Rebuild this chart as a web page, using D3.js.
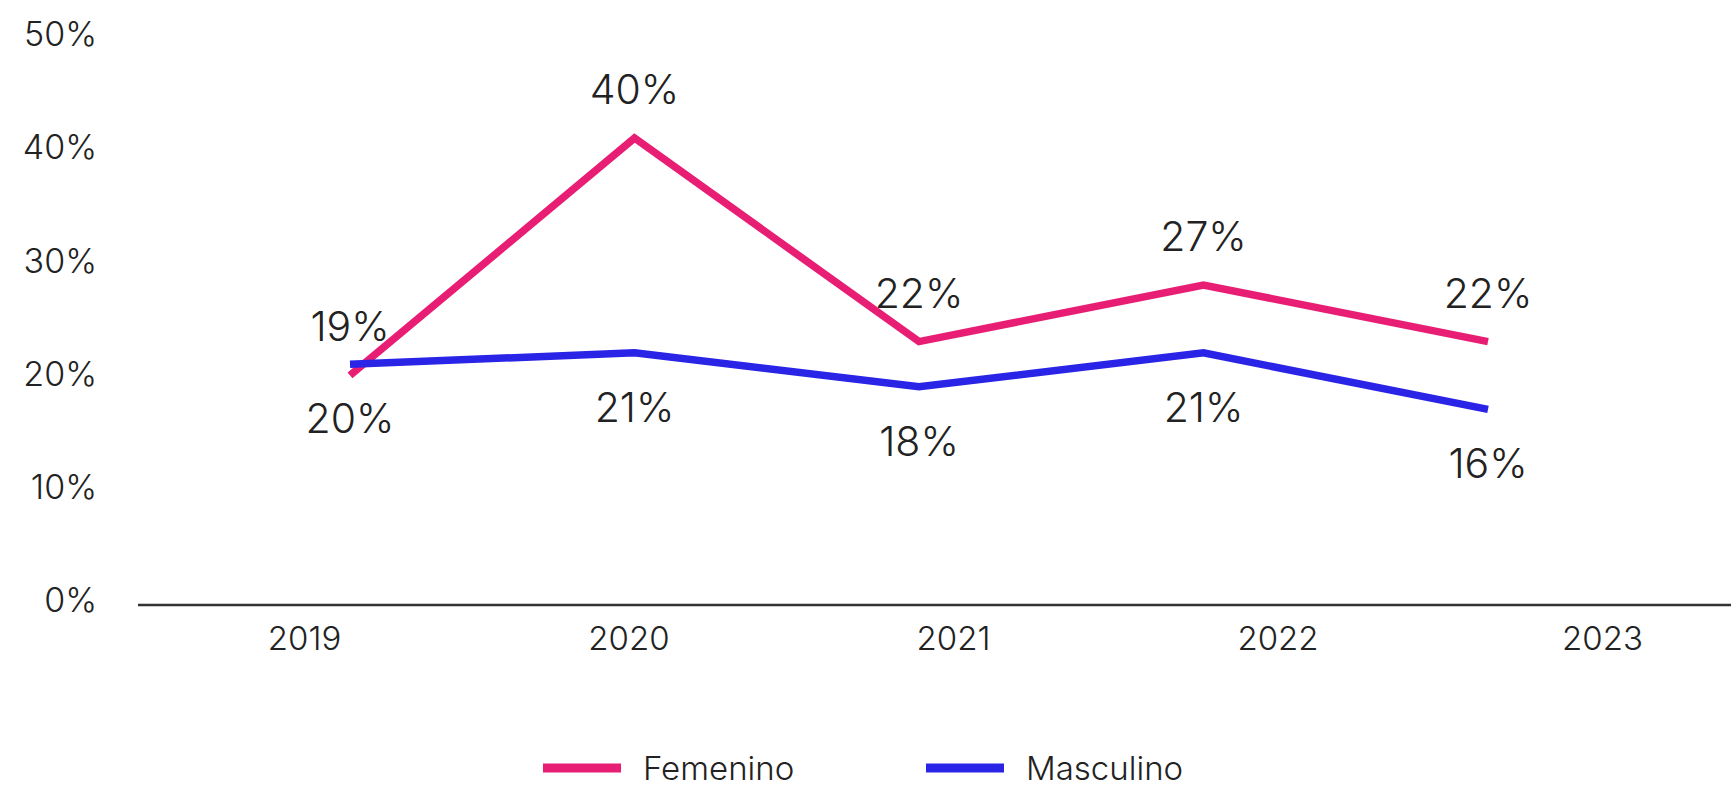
<!DOCTYPE html>
<html>
<head>
<meta charset="utf-8">
<script src="https://cdn.jsdelivr.net/npm/d3@7"></script>
<style>
  body { margin: 0; background: #fff; }
  svg { display: block; font-family: Inter, "Noto Sans", sans-serif; font-weight: 300; }
</style>
</head>
<body>
<svg id="chart" width="1731" height="790"></svg>
<script>
const years = ["2019", "2020", "2021", "2022", "2023"]
const femenino = [19, 40, 22, 27, 22]
const masculino = [20, 21, 18, 21, 16]
const yTicks = [0, 10, 20, 30, 40, 50]
const seriesNames = ["Femenino", "Masculino"]
const seriesColors = ["#e81e75", "#2a24e6"]

const svg = d3.select("#chart")
const textColor = "#222"

// lines and year labels don't sit on the same positions in the original
const x = d3.scalePoint().domain(years).range([350, 1488])
const xLab = d3.scalePoint().domain(years).range([304, 1602])
const y = d3.scaleLinear().domain([-1.3, 50]).range([605, 25])

// y axis
const yAxis = svg.append("g")
    .attr("transform", "translate(110,0)")
    .call(d3.axisLeft(y).tickValues(yTicks).tickFormat(d => d + "%").tickSize(0).tickPadding(13))
    .attr("font-family", null)
    .attr("font-size", null)
yAxis.select(".domain").remove()
yAxis.selectAll("text")
    .attr("transform", "translate(0,10)")
    .style("font-size", "34px")
    .attr("fill", textColor)

// x axis
svg.append("line")
    .attr("x1", 138).attr("x2", 1731)
    .attr("y1", 605).attr("y2", 605)
    .attr("stroke", "#333").attr("stroke-width", 2.5)

const xAxis = svg.append("g")
    .attr("transform", "translate(0,605)")
    .call(d3.axisBottom(xLab).tickSize(0).tickPadding(22))
    .attr("font-family", null)
    .attr("font-size", null)
xAxis.select(".domain").remove()
xAxis.selectAll("text")
    .style("font-size", "33px")
    .attr("fill", textColor)

const series = [
    { name: seriesNames[0], values: femenino, color: seriesColors[0], labelDy: -49 },
    { name: seriesNames[1], values: masculino, color: seriesColors[1], labelDy: 54 }
]

const line = d3.line()
    .x((d, i) => x(years[i]))
    .y(d => y(d))

svg.selectAll("path.series")
    .data(series)
    .enter()
    .append("path")
    .attr("class", "series")
    .attr("d", d => line(d.values))
    .attr("fill", "none")
    .attr("stroke", d => d.color)
    .attr("stroke-width", 7.5)

// value labels
series.forEach(s => {
    svg.selectAll(null)
        .data(s.values)
        .enter()
        .append("text")
        .attr("x", (d, i) => x(years[i]))
        .attr("y", d => y(d) + s.labelDy)
        .attr("text-anchor", "middle")
        .attr("dominant-baseline", "central")
        .attr("fill", textColor)
        .style("font-size", "41px")
        .text(d => d + "%")
})

// legend
const legend = svg.selectAll("g.legend")
    .data(series)
    .enter()
    .append("g")
    .attr("class", "legend")
    .attr("transform", (d, i) => "translate(" + (543 + i * 383) + ",768)")

legend.append("line")
    .attr("x1", 0).attr("x2", 78)
    .attr("stroke", d => d.color)
    .attr("stroke-width", 9)

legend.append("text")
    .attr("x", 100)
    .attr("dominant-baseline", "central")
    .attr("fill", textColor)
    .style("font-size", "33px")
    .text(d => d.name)
</script>
</body>
</html>
